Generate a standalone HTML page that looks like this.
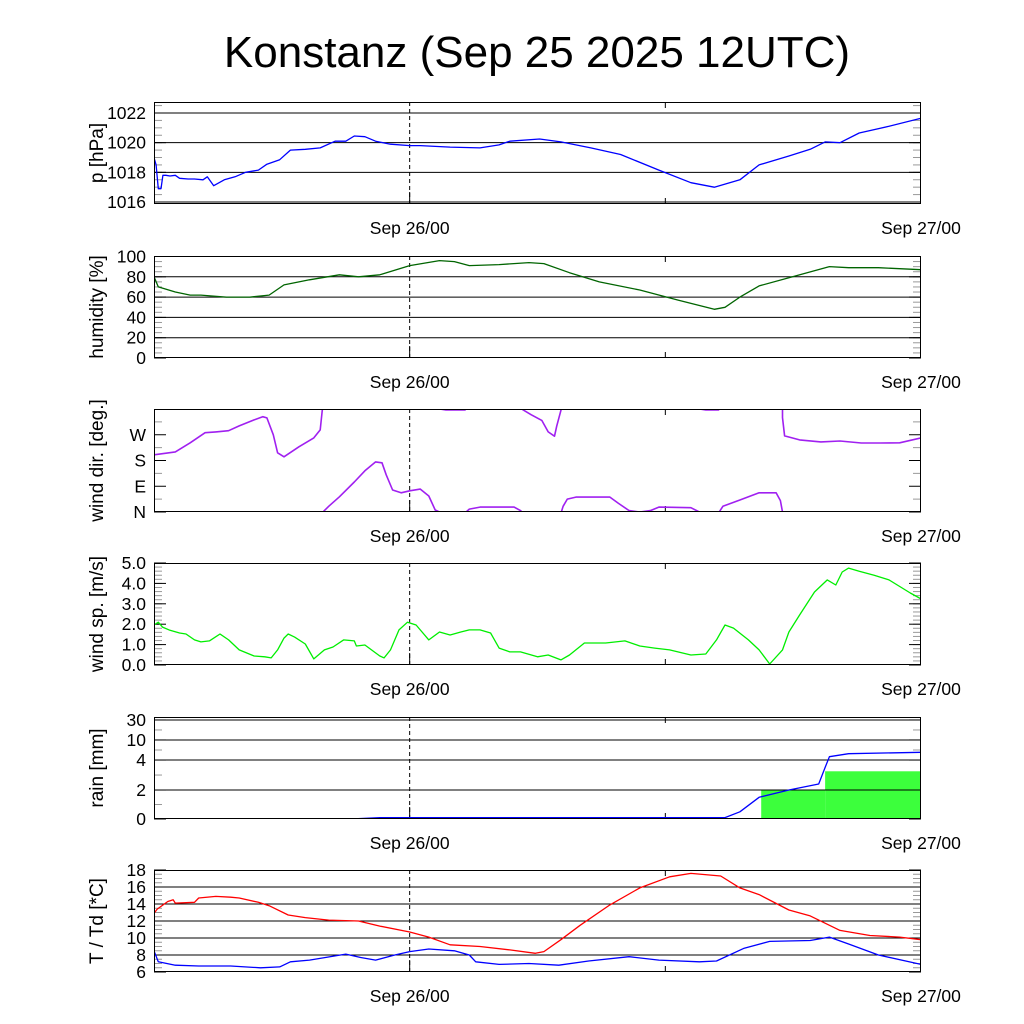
<!DOCTYPE html>
<html><head><meta charset="utf-8">
<style>
html,body{margin:0;padding:0;background:#fff;}
svg{display:block;font-family:"Liberation Sans",sans-serif;}
</style></head>
<body>
<svg id="chart" width="1024" height="1024" viewBox="0 0 1024 1024">
<text x="537" y="67" font-size="44" text-anchor="middle">Konstanz (Sep 25 2025 12UTC)</text>
</svg>
<script>
// ---- data (time in hours from Sep 25 12UTC) ----
const xTickHours = [12, 36];
const xTickLabels = ["Sep 26/00", "Sep 27/00"];

const pTime = [0,0.1,0.2,0.33,0.42,0.56,0.75,1,1.2,1.6,1.9,2.3,2.5,2.8,3.3,3.8,4.3,4.9,5.3,5.9,6.4,7.1,7.8,8.5,9,9.4,9.9,10.4,11.1,12,12.5,13.9,15.3,16.2,16.7,18.1,19.1,20.5,21.9,23.7,25.2,26.3,27.5,28.4,29.8,30.8,31.5,32.2,33.1,34.5,36];
const pVal = [1019.0,1018.5,1016.9,1016.9,1017.8,1017.8,1017.75,1017.8,1017.6,1017.55,1017.55,1017.5,1017.7,1017.1,1017.5,1017.7,1018.0,1018.15,1018.55,1018.85,1019.5,1019.55,1019.65,1020.1,1020.1,1020.45,1020.4,1020.1,1019.9,1019.8,1019.8,1019.7,1019.65,1019.85,1020.1,1020.25,1020.05,1019.65,1019.2,1018.15,1017.3,1017.0,1017.5,1018.5,1019.1,1019.55,1020.05,1020.0,1020.65,1021.1,1021.65];

const rhTime = [0,0.2,1,1.7,2.2,3.4,4.5,5.4,6.1,7.3,8.7,9.6,10.6,12,13.4,14.1,14.8,16.2,17.6,18.3,19.5,20.9,22.8,24.6,26.3,26.8,27.5,28.4,29.8,31.7,32.6,34.0,36];
const rhVal = [80,70,65,62,62,60,60,62,72,77,82,80,82,91,96,95,91,92,94,93,84,75,67,57,48,50,60,71,79,90,89,89,87];

const wdTime = [0,1,1.7,2.4,2.9,3.5,4.0,4.7,5.1,5.3,5.6,5.8,6.1,6.8,7.5,7.8,7.9,8.0,8.2,8.7,9.4,9.9,10.4,10.7,10.9,11.2,11.6,12,12.5,12.9,13.2,13.4,13.7,14.6,14.8,15.3,16.9,17.2,17.3,17.7,18.2,18.5,18.8,18.9,19.1,19.2,19.4,19.8,21.4,21.8,22.3,22.8,23.3,23.7,25.2,25.6,25.9,26.5,26.7,27.5,28.4,29.2,29.4,29.5,29.5,29.6,30.3,31.3,32.2,33.2,34.1,35.0,36];
const wdVal = [200,210,242,277,280,284,301,322,333,329,270,207,193,228,259,287,357,365,380,413,465,504,535,532,490,437,427,434,440,416,367,360,357,357,370,377,377,365,358,340,320,280,265,300,355,380,405,412,412,390,365,360,365,377,375,360,357,357,380,402,427,427,400,360,330,266,252,245,248,241,241,242,259];

const wsTime = [0,0.2,0.4,0.75,1.2,1.5,1.9,2.2,2.6,3.1,3.5,4.0,4.7,5.2,5.5,5.8,6.1,6.3,6.6,7.1,7.5,8.0,8.4,8.9,9.4,9.5,9.9,10.6,10.8,11.1,11.5,11.9,12.3,12.9,13.4,13.9,14.4,14.8,15.3,15.8,16.2,16.7,17.2,18.0,18.5,19.1,19.5,20.2,21.2,22.1,22.8,23.5,24.2,25.2,25.9,26.4,26.8,27.2,27.9,28.4,28.9,29.5,29.8,30.3,31.0,31.6,32.0,32.3,32.6,33.1,33.8,34.5,35.5,36];
const wsVal = [1.96,2.1,1.86,1.7,1.57,1.52,1.23,1.13,1.18,1.52,1.23,0.74,0.44,0.4,0.35,0.74,1.32,1.52,1.37,1.03,0.3,0.74,0.88,1.23,1.18,0.93,0.98,0.44,0.35,0.74,1.72,2.1,1.96,1.23,1.62,1.47,1.62,1.72,1.72,1.57,0.83,0.64,0.64,0.4,0.49,0.25,0.49,1.08,1.08,1.18,0.93,0.83,0.74,0.49,0.54,1.23,1.96,1.81,1.23,0.74,0.05,0.74,1.62,2.45,3.58,4.17,3.92,4.56,4.75,4.6,4.4,4.17,3.53,3.24];

const rainTicks = [0,2,4,10,30];
const rainTickLabels = ["0","2","4","10","30"];
const rainAccTime = [0,9.2,10.6,26.8,27.5,28.4,29.8,30.5,31.2,31.5,31.7,32.6,36];
const rainAccVal = [0,0,0.1,0.1,0.5,1.5,2.0,2.2,2.4,3.5,5.0,5.9,6.3];
const rainBarStart = [10.6,28.5,31.5];
const rainBarEnd = [13.4,31.5,36];
const rainBarVal = [0.05,2.0,3.25];

const tTime = [0,0.15,0.65,0.9,1.0,1.9,2.1,2.9,3.6,4.0,4.9,5.4,6.3,7.1,8.2,9.6,10.6,12,12.9,13.9,15.3,16.7,17.9,18.3,19.1,20.0,21.4,22.8,24.2,25.2,26.6,27.5,28.4,29.8,30.8,32.2,33.6,35.0,36];
const tVal = [12.9,13.4,14.3,14.5,14.1,14.2,14.7,14.9,14.8,14.7,14.2,13.8,12.7,12.4,12.1,12.0,11.4,10.7,10.1,9.2,9.0,8.6,8.2,8.4,9.8,11.5,13.9,15.9,17.2,17.6,17.3,15.9,15.1,13.3,12.6,10.9,10.3,10.1,9.8];
const tdTime = [0,0.2,1.0,2.1,3.6,5.0,5.9,6.4,7.3,9.0,9.7,10.4,11.3,12,12.9,14.1,14.8,15.1,16.2,17.6,19.0,20.4,22.3,23.7,25.6,26.4,27.7,28.9,30.8,31.7,32.6,34.0,36];
const tdVal = [8.5,7.2,6.8,6.7,6.7,6.5,6.6,7.2,7.4,8.1,7.7,7.4,8.0,8.4,8.7,8.5,8.0,7.2,6.9,7.0,6.8,7.3,7.8,7.4,7.2,7.3,8.8,9.6,9.7,10.1,9.3,8.0,6.9];

// ---- layout ----
const L = 154, R = 921, TMAX = 36;
const svg = document.getElementById('chart');
const NS = 'http://www.w3.org/2000/svg';
function xs(h){ return L + (R - L) * h / TMAX; }
function mk(tag, attrs, parent){
  const e = document.createElementNS(NS, tag);
  for (const k in attrs) e.setAttribute(k, attrs[k]);
  (parent || svg).appendChild(e);
  return e;
}
function linMap(lo, hi, top, bot){ return v => bot - (v - lo) / (hi - lo) * (bot - top); }

function panel(cfg){
  const g = mk('g', {});
  
  
  const {top, bot, ys} = cfg;
  (cfg.minor || []).forEach(v => {
    const y = ys(v);
    mk('line', {x1:L, x2:L+8, y1:y, y2:y, stroke:'#999', 'stroke-width':1}, g);
    mk('line', {x1:R-8, x2:R, y1:y, y2:y, stroke:'#999', 'stroke-width':1}, g);
  });
  (cfg.grid || []).forEach(v => {
    const y = ys(v);
    mk('line', {x1:L, x2:R, y1:y, y2:y, stroke:'#000', 'stroke-width':1}, g);
  });
  cfg.ticks.forEach((v, i) => {
    const y = ys(v);
    mk('line', {x1:L, x2:L+12, y1:y, y2:y, stroke:'#000', 'stroke-width':1}, g);
    mk('line', {x1:R-12, x2:R, y1:y, y2:y, stroke:'#000', 'stroke-width':1}, g);
    const t = mk('text', {x:146, y:y+6, 'font-size':17.5, 'text-anchor':'end'}, g);
    t.textContent = cfg.labels[i];
    
    
  });
  mk('line', {x1:xs(12), x2:xs(12), y1:top, y2:bot, stroke:'#000', 'stroke-dasharray':'4,3', 'stroke-width':1}, g);
  mk('line', {x1:xs(12), x2:xs(12), y1:bot-12, y2:bot, stroke:'#000', 'stroke-width':1}, g);
  mk('line', {x1:xs(24), x2:xs(24), y1:bot-6, y2:bot, stroke:'#000', 'stroke-width':1}, g);
  mk('line', {x1:xs(24), x2:xs(24), y1:top, y2:top+6, stroke:'#000', 'stroke-width':1}, g);
  const cid = 'clip-' + cfg.name;
  const cp = mk('clipPath', {id:cid}, g);
  mk('rect', {x:L, y:top, width:R-L, height:bot-top}, cp);
  const plot = mk('g', {'clip-path':'url(#' + cid + ')'}, g);
  cfg.draw(plot);
  const fr = mk('rect', {x:L+0.5, y:top+0.5, width:R-L-1, height:bot-top-1, fill:'none', stroke:'#000', 'stroke-width':1}, g);
  
  
  xTickHours.forEach((h, i) => {
    const t = mk('text', {x:xs(h), y:bot+30, 'font-size':17.5, 'text-anchor':'middle'}, g);
    t.textContent = xTickLabels[i];
    
    
  });
  const cy = (top + bot) / 2;
  const tt = mk('text', {x:0, y:0, 'font-size':19, 'text-anchor':'middle', transform:'translate(103,' + cy + ') rotate(-90)'}, g);
  tt.textContent = cfg.title;
  
  
}

function line(parent, times, vals, ys, color, name, w, offset){
  const pts = times.map((h, i) => xs(h).toFixed(1) + ',' + ys(vals[i] + (offset || 0)).toFixed(1)).join(' ');
  const p = mk('polyline', {points:pts, fill:'none', stroke:color, 'stroke-width':w || 1.3, 'stroke-linejoin':'round'}, parent);
  
  
  return p;
}
function range(a, b, s){ const r = []; for (let v = a; v <= b + 1e-9; v += s) r.push(+v.toFixed(3)); return r; }

{
  const top = 102, bot = 204, ys = linMap(1016, 1022, 113, 202);
  panel({name:'pressure', top, bot, ys, title:'p [hPa]',
    ticks:[1016,1018,1020,1022], labels:['1016','1018','1020','1022'], grid:[1016,1018,1020,1022],
    minor:range(1016,1022.5,0.5),
    draw:g => line(g, pTime, pVal, ys, '#0000ff', 'pressure-line')});
}
{
  const top = 256, bot = 358, ys = linMap(0, 100, 256.5, 358);
  panel({name:'humidity', top, bot, ys, title:'humidity [%]',
    ticks:[0,20,40,60,80,100], labels:['0','20','40','60','80','100'], grid:[20,40,60,80],
    minor:range(0,100,5),
    draw:g => line(g, rhTime, rhVal, ys, '#006400', 'humidity-line')});
}
{
  const top = 409, bot = 512, ys = linMap(0, 360, 409, 512);
  panel({name:'wind-direction', top, bot, ys, title:'wind dir. [deg.]',
    ticks:[0,90,180,270], labels:['N','E','S','W'], grid:[],
    minor:[45,135,225,315],
    draw:g => {
      line(g, wdTime, wdVal, ys, '#a020f0', 'wind-direction-line', 1.6, 0);
      line(g, wdTime, wdVal, ys, '#a020f0', 'wind-direction-line-wrapped', 1.6, -360);
      line(g, wdTime, wdVal, ys, '#a020f0', 'wind-direction-line-wrapped-up', 1.6, 360);
    }});
}
{
  const top = 563, bot = 665, ys = linMap(0, 5, 563, 665);
  panel({name:'wind-speed', top, bot, ys, title:'wind sp. [m/s]',
    ticks:[0,1,2,3,4,5], labels:['0.0','1.0','2.0','3.0','4.0','5.0'], grid:[],
    minor:range(0,5,0.2),
    draw:g => line(g, wsTime, wsVal, ys, '#00ee00', 'wind-speed-line')});
}
{
  const top = 717, bot = 819;
  const tickFrac = [0, 0.284, 0.578, 0.775, 0.971];
  const ys = v => {
    for (let i = 0; i < rainTicks.length - 1; i++) {
      if (v <= rainTicks[i+1]) {
        const f = tickFrac[i] + (v - rainTicks[i]) / (rainTicks[i+1] - rainTicks[i]) * (tickFrac[i+1] - tickFrac[i]);
        return bot - f * (bot - top);
      }
    }
    return top;
  };
  panel({name:'rain', top, bot, ys, title:'rain [mm]',
    ticks:rainTicks, labels:rainTickLabels, grid:[2,4,10,30],
    minor:[1,3,7,20],
    draw:g => {
      rainBarVal.forEach((v, i) => {
        const r = mk('rect', {x:xs(rainBarStart[i]), y:ys(v), width:xs(rainBarEnd[i]) - xs(rainBarStart[i]), height:bot - ys(v), fill:'#3cff3c'}, g);
        
        
      });
      [2,4,10].forEach(v => mk('line', {x1:L, x2:R, y1:ys(v), y2:ys(v), stroke:'#000', 'stroke-width':1}, g));
      line(g, rainAccTime, rainAccVal, ys, '#0000ff', 'rain-accumulation-line');
    }});
}
{
  const top = 870, bot = 972, ys = linMap(6, 18, 870, 972);
  panel({name:'temperature', top, bot, ys, title:'T / Td [*C]',
    ticks:[6,8,10,12,14,16,18], labels:['6','8','10','12','14','16','18'], grid:[8,10,12,14,16],
    minor:range(6,18,0.5),
    draw:g => {
      line(g, tTime, tVal, ys, '#ff0000', 'temperature-line');
      line(g, tdTime, tdVal, ys, '#0000ff', 'dewpoint-line');
    }});
}
</script>
</body></html>
